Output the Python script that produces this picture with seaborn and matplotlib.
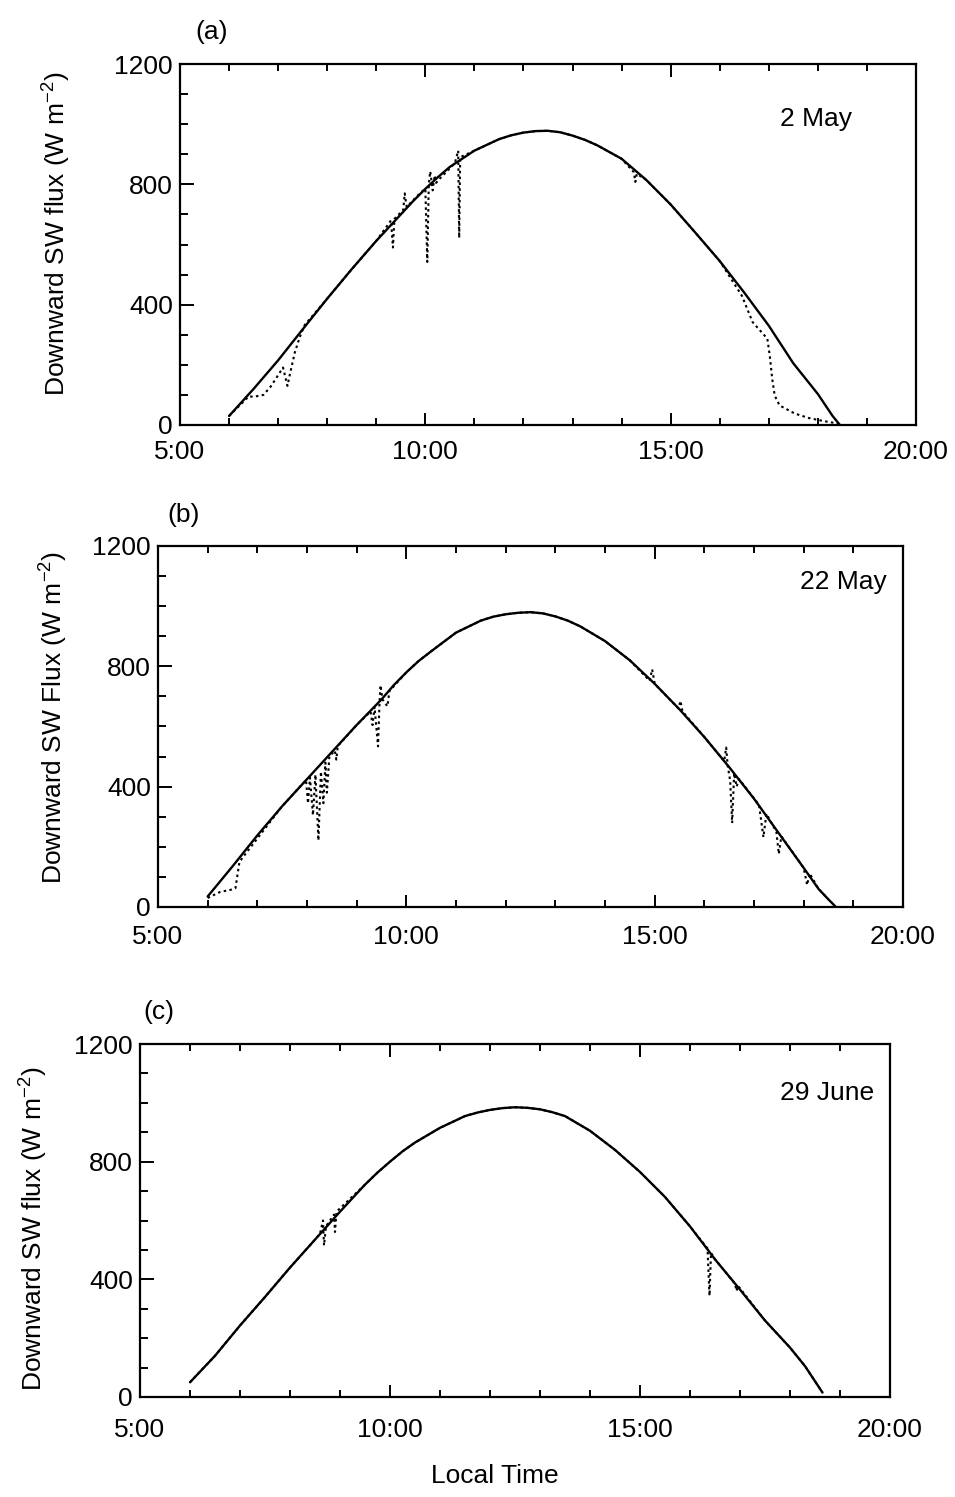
import matplotlib
matplotlib.use("Agg")
import matplotlib.pyplot as plt
import seaborn as sns
from matplotlib.ticker import MultipleLocator, FixedLocator

# ---------------- data ----------------
x_ticks = [5, 10, 15, 20]
x_tick_labels = ["5:00", "10:00", "15:00", "20:00"]
y_ticks = [0, 400, 800, 1200]
y_tick_labels = ["0", "400", "800", "1200"]

panel_letters = ["(a)", "(b)", "(c)"]
dates = ["2 May", "22 May", "29 June"]
ylabels = ["Downward SW flux (W m$^{-2}$)",
           "Downward SW Flux (W m$^{-2}$)",
           "Downward SW flux (W m$^{-2}$)"]
xlabel_bottom = "Local Time"

# (a) 2 May - clear-sky (solid)
a_model_t = [6.0, 6.5, 7.0, 7.5, 8.0, 8.5, 9.0, 9.5, 9.75, 10.0, 10.25, 10.5, 11.0, 11.5,
             11.75, 12.0, 12.25, 12.5, 12.75, 13.0, 13.25, 13.5, 14.0, 14.5, 15.0, 15.5,
             16.0, 16.5, 17.0, 17.5, 18.0, 18.3, 18.45]
a_model_v = [30, 120, 215, 318, 420, 518, 612, 700, 744, 785, 823, 858, 912, 950,
             963, 972, 977, 978, 973, 962, 948, 930, 885, 815, 733, 640,
             545, 440, 330, 205, 103, 30, 0]
# (a) observed (dotted)
a_obs_t = [6.0, 6.4, 6.51, 6.7, 6.85, 7.1, 7.19, 7.24, 7.34, 7.44, 7.54, 8.0, 8.5, 9.0,
           9.30, 9.34, 9.37, 9.55, 9.58, 9.62, 9.9, 10.0, 10.04, 10.07, 10.10, 10.15,
           10.19, 10.22, 10.3, 10.6, 10.67, 10.69, 10.71, 11.0, 11.5, 11.75, 12.0, 12.25,
           12.5, 12.75, 13.0, 13.25, 13.5, 14.0, 14.25, 14.28, 14.31, 14.5, 15.0, 15.5,
           16.0, 16.45, 16.67, 16.97, 17.02, 17.07, 17.12, 17.22, 17.53, 17.82, 18.12,
           18.37, 18.5]
a_obs_v = [30, 95, 94, 100, 128, 191, 130, 169, 241, 292, 332, 420, 518, 612,
           680, 590, 685, 715, 770, 725, 772, 785, 542, 800, 843, 780,
           830, 805, 820, 870, 912, 622, 890, 912, 950, 963, 972, 977,
           978, 973, 962, 948, 930, 885, 840, 808, 835, 815, 733, 640,
           545, 430, 342, 287, 230, 153, 98, 65, 38, 23, 13,
           6, 2]

# (b) 22 May
b_model_t = [6.0, 6.5, 7.0, 7.5, 8.0, 8.5, 9.0, 9.5, 9.75, 10.0, 10.25, 10.5, 11.0, 11.5,
             11.75, 12.0, 12.25, 12.5, 12.75, 13.0, 13.25, 13.5, 14.0, 14.5, 15.0, 15.5,
             16.0, 16.5, 17.0, 17.5, 18.0, 18.3, 18.5, 18.65]
b_model_v = [35, 135, 238, 335, 425, 515, 605, 690, 738, 780, 818, 850, 912, 952,
             965, 973, 978, 980, 976, 966, 952, 933, 884, 820, 742, 657,
             565, 465, 360, 245, 130, 60, 25, 0]
b_obs_t = [6.0, 6.25, 6.46, 6.56, 6.64, 6.8, 7.5, 7.98, 8.02, 8.06, 8.12, 8.17, 8.23, 8.28,
           8.33, 8.37, 8.40, 8.45, 8.56, 8.59, 8.62, 9.0, 9.28, 9.32, 9.36, 9.43, 9.46,
           9.48, 9.52, 9.62, 9.66, 10.0, 10.25, 10.5, 11.0, 11.5, 11.75, 12.0, 12.25,
           12.5, 12.75, 13.0, 13.25, 13.5, 14.0, 14.5, 14.9, 14.95, 15.0,
           15.48, 15.52, 15.56, 16.0, 16.40, 16.44, 16.47, 16.52, 16.56, 16.60, 16.65,
           16.7, 17.1, 17.19, 17.25, 17.45, 17.5, 17.55, 18.0, 18.07, 18.12, 18.3, 18.5]
b_obs_v = [30, 50, 57, 63, 150, 185, 335, 422, 345, 430, 305, 440, 221, 450,
           345, 480, 380, 500, 520, 490, 535, 605, 650, 605, 665, 534, 680,
           737, 690, 667, 718, 780, 818, 850, 912, 952, 965, 973, 978,
           980, 976, 966, 952, 933, 884, 820, 752, 790, 742,
           660, 685, 650, 565, 485, 530, 470, 420, 279, 445, 400,
           425, 340, 232, 310, 250, 176, 235, 130, 73, 112, 60, 25]

# (c) 29 June
c_model_t = [6.0, 6.5, 7.0, 7.5, 8.0, 8.5, 9.0, 9.5, 9.75, 10.0, 10.25, 10.5, 11.0, 11.5,
             11.75, 12.0, 12.25, 12.5, 12.75, 13.0, 13.25, 13.5, 14.0, 14.5, 15.0, 15.5,
             16.0, 16.5, 17.0, 17.5, 18.0, 18.3, 18.65]
c_model_v = [50, 140, 243, 340, 440, 535, 630, 722, 763, 800, 835, 865, 915, 955,
             967, 976, 982, 985, 983, 978, 968, 955, 905, 840, 765, 680,
             580, 468, 365, 260, 168, 105, 15]
c_obs_t = [6.0, 6.5, 7.0, 7.5, 8.0, 8.5, 8.6, 8.66, 8.68, 8.72, 8.88, 8.90, 8.93, 9.5,
           9.75, 10.0, 10.25, 10.5, 11.0, 11.5, 11.75, 12.0, 12.25, 12.5, 12.75, 13.0,
           13.25, 13.5, 14.0, 14.5, 15.0, 15.5, 16.0, 16.35, 16.39, 16.42, 16.5, 16.9,
           16.93, 16.96, 17.5, 18.0, 18.3, 18.65]
c_obs_v = [50, 140, 243, 340, 440, 535, 555, 600, 515, 580, 620, 561, 630, 722,
           763, 800, 835, 865, 915, 955, 967, 976, 982, 985, 983, 978,
           968, 955, 905, 840, 765, 680, 580, 505, 344, 490, 468, 385,
           360, 378, 260, 168, 105, 15]

panels = [
    (a_model_t, a_model_v, a_obs_t, a_obs_v),
    (b_model_t, b_model_v, b_obs_t, b_obs_v),
    (c_model_t, c_model_v, c_obs_t, c_obs_v),
]

# ---------------- style ----------------
sns.set_style("ticks")
plt.rcParams["font.family"] = ["Liberation Sans", "DejaVu Sans"]
plt.rcParams["mathtext.fontset"] = "custom"
plt.rcParams["mathtext.rm"] = "Liberation Sans"
plt.rcParams["mathtext.it"] = "Liberation Sans"
for k in ["text.color", "axes.labelcolor", "xtick.color", "ytick.color", "axes.edgecolor"]:
    plt.rcParams[k] = "black"
plt.rcParams["axes.linewidth"] = 1.6
FS = 19

W, H = 955, 1497
fig = plt.figure(figsize=(W / 100, H / 100), dpi=100)

# axes boxes in pixel coords: left, right, top, bottom
boxes = [(180, 916, 64, 425), (158, 903, 546, 907), (140, 890, 1044, 1397)]
ylabel_pos = [(-0.145, 0.53), (-0.118, 0.524), (-0.12, 0.475)]
letter_pos = [(195, 32), (167, 515), (143, 1012)]
date_pos = [(17.23, 1017), (17.93, 1080), (17.8, 1033)]
x_pads = [11, 13, 15]

for i, ((mt, mv, ot, ov), (l, r, t, b)) in enumerate(zip(panels, boxes)):
    ax = fig.add_axes([l / W, 1 - b / H, (r - l) / W, (b - t) / H])
    sns.lineplot(x=ot, y=ov, ax=ax, color="black", lw=1.5,
                 linestyle=(0, (1.2, 1.6)), estimator=None, sort=False)
    sns.lineplot(x=mt, y=mv, ax=ax, color="black", lw=1.7,
                 estimator=None, sort=False)
    ax.set_xlim(5, 20)
    ax.set_ylim(0, 1200)
    ax.xaxis.set_major_locator(FixedLocator(x_ticks))
    ax.set_xticklabels(x_tick_labels, fontsize=FS)
    ax.xaxis.set_minor_locator(MultipleLocator(1))
    ax.yaxis.set_major_locator(FixedLocator(y_ticks))
    ax.set_yticklabels(y_tick_labels, fontsize=FS)
    ax.yaxis.set_minor_locator(MultipleLocator(100))
    ax.tick_params(axis="x", which="both", direction="in", top=True, bottom=True,
                   width=1.4, pad=x_pads[i])
    ax.tick_params(axis="x", which="major", length=9)
    ax.tick_params(axis="x", which="minor", length=5)
    ax.tick_params(axis="y", which="both", direction="in", left=True, right=False,
                   width=1.4, pad=5)
    ax.tick_params(axis="y", which="major", length=10)
    ax.tick_params(axis="y", which="minor", length=6)
    for s in ax.spines.values():
        s.set_visible(True)
        s.set_linewidth(1.6)
        s.set_color("black")
    ax.set_ylabel(ylabels[i], fontsize=FS)
    ax.yaxis.set_label_coords(*ylabel_pos[i])
    if i == 2:
        ax.set_xlabel(xlabel_bottom, fontsize=FS)
        ax.xaxis.set_label_coords((495 - l) / (r - l), (b - 1464) / (b - t))
    else:
        ax.set_xlabel("")
    ax.text(date_pos[i][0], date_pos[i][1], dates[i], fontsize=FS,
            ha="left", va="center")
    fig.text(letter_pos[i][0] / W, 1 - letter_pos[i][1] / H, panel_letters[i],
             fontsize=FS, ha="left", va="center")

fig.savefig("out.png", dpi=100)
